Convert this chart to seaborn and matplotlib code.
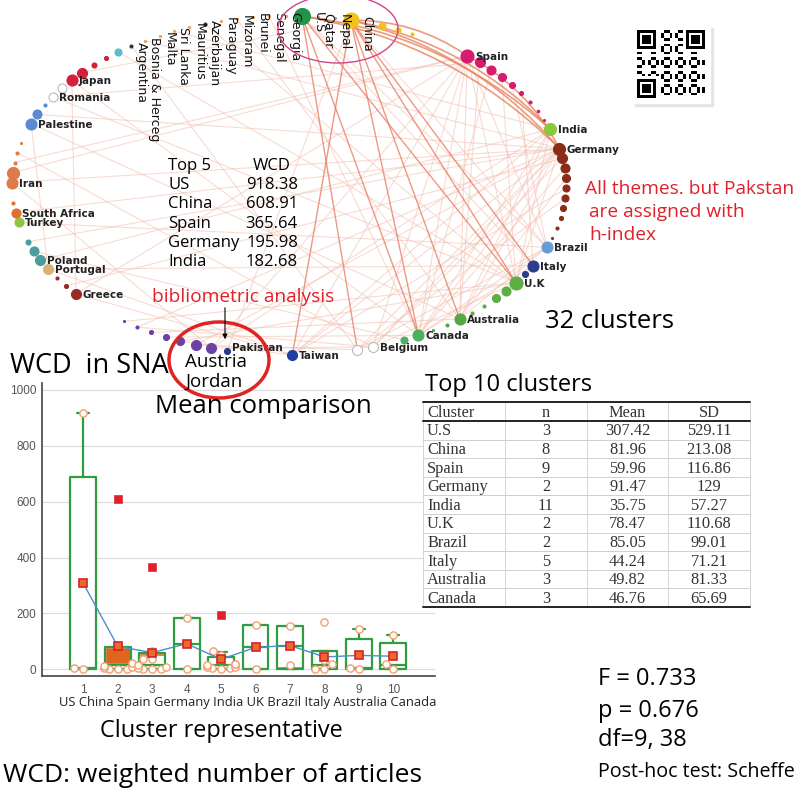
import numpy as np
import pandas as pd
import matplotlib
matplotlib.use("Agg")
from matplotlib import pyplot as plt
from matplotlib.patches import Ellipse, Rectangle, FancyArrowPatch
from matplotlib.collections import LineCollection
import seaborn as sns

sns.set_style("white")
plt.rcParams['font.family'] = ['Open Sans', 'DejaVu Sans']

# ---------------- 数据 ----------------
clusters = ["1", "2", "3", "4", "5", "6", "7", "8", "9", "10"]
cluster_names = ["US", "China", "Spain", "Germany", "India", "UK", "Brazil", "Italy", "Australia", "Canada"]
table_names = ["U.S", "China", "Spain", "Germany", "India", "U.K", "Brazil", "Italy", "Australia", "Canada"]
n_size = [3, 8, 9, 2, 11, 2, 2, 5, 3, 3]
mean_wcd = [307.42, 81.96, 59.96, 91.47, 35.75, 78.47, 85.05, 44.24, 49.82, 46.76]
sd_wcd = [529.11, 213.08, 116.86, 129, 57.27, 110.68, 99.01, 71.21, 81.33, 65.69]

# 箱线图统计量
box_q1 = [0, 0, 0, 0, 0, 0, 0, 0, 0, 0]
box_med = [3.9, 15, 15, 91.5, 15, 78.5, 85, 15, 5, 15]
box_q3 = [690, 81, 60, 183, 45, 157, 155, 65, 110, 95]
box_hi = [918, 81, 60, 183, 63, 157, 155, 65, 145, 122]
fill_lo = [0, 20, 48, 0, 0, 0, 0, 0, 0, 0]
fill_hi = [0, 81, 60, 0, 0, 0, 12, 0, 0, 0]

# 每个聚类的WCD值
cluster_points = [
    [0, 3.9, 918.4],
    [0, 0.5, 1.5, 3, 8, 12, 21.8],
    [0, 1, 2, 5, 10, 15, 36, 38, 67],
    [0, 183],
    [0, 3, 5, 8, 10, 15, 18, 20, 51, 66],
    [0, 157],
    [15, 155],
    [0, 0, 18, 33, 170],
    [0, 5, 144.5],
    [0, 18, 122],
]
out_cluster = [1, 2, 4]
out_value = [608.91, 365.64, 195.0]

top5_names = ["US", "China", "Spain", "Germany", "India"]
top5_wcd = [918.38, 608.91, 365.64, 195.98, 182.68]

stats_lines = ["F = 0.733", "p = 0.676", "df=9, 38", "Post-hoc test: Scheffe"]

# 网络节点（按圆周顺序）：标签, 颜色, 直径
ring = [
    ("U.S", "#23924a", 16), ("Qatar", "#9a9a9a", 2), ("Nepal", "#9a9a9a", 2), ("China", "#f2c21c", 15),
    ("", "", 0), ("", "#f2c21c", 7), ("", "#f2c21c", 5), ("", "#f2c21c", 3),
    ("", "", 0), ("", "", 0), ("", "", 0),
    ("Spain", "#d81b6f", 13), ("", "#d81b6f", 10), ("", "#d81b6f", 9), ("", "#d81b6f", 8),
    ("", "#d81b6f", 6), ("", "#d81b6f", 4), ("", "#d81b6f", 3), ("", "#d81b6f", 2.5), ("", "#d81b6f", 2),
    ("India", "#8cc63f", 12), ("", "", 0),
    ("Germany", "#8b2c18", 12), ("", "#8b2c18", 10), ("", "#8b2c18", 9), ("", "#8b2c18", 8),
    ("", "#8b2c18", 7), ("", "#8b2c18", 7), ("", "#8b2c18", 6), ("", "#8b2c18", 4),
    ("", "#8b2c18", 3), ("", "#8b2c18", 2),
    ("Brazil", "#6b9bd6", 11), ("", "", 0), ("Italy", "#2a3d8f", 11), ("", "#2a3d8f", 6),
    ("U.K", "#5cae45", 13), ("", "#5cae45", 9), ("", "#5cae45", 8), ("", "#5cae45", 3), ("", "#5cae45", 3),
    ("Australia", "#55a844", 11), ("", "#55a844", 3), ("", "#55a844", 2),
    ("Canada", "#4db05e", 11), ("", "#4db05e", 7), ("", "", 0),
    ("Belgium", "white", 10), ("", "white", 10), ("", "", 0), ("", "", 0), ("", "", 0),
    ("Taiwan", "#1f3e9e", 10), ("", "", 0), ("", "", 0), ("", "", 0),
    ("Pakistan", "#2b3787", 6), ("", "#6b42a3", 10), ("", "#6b42a3", 10), ("", "#6b42a3", 8),
    ("", "#6b42a3", 6), ("", "#6b42a3", 4), ("", "#6b42a3", 3), ("", "#6b42a3", 2),
    ("", "", 0), ("", "", 0), ("", "", 0),
    ("Greece", "#9c2a22", 10), ("", "#9c2a22", 4), ("", "#9c2a22", 3),
    ("Portugal", "#d9b277", 10), ("Poland", "#4b9c9c", 10), ("", "#4b9c9c", 9), ("", "#4b9c9c", 5),
    ("", "", 0), ("Turkey", "#8cc63f", 9), ("South Africa", "#e07032", 9), ("", "#e07032", 3), ("", "", 0),
    ("Iran", "#e07a48", 11), ("", "#e07a48", 12), ("", "#e07a48", 3), ("", "#e07a48", 3), ("", "#e07a48", 2),
    ("", "", 0), ("Palestine", "#5a8bd2", 11), ("", "#5a8bd2", 9), ("", "#5a8bd2", 3),
    ("Romania", "white", 9), ("", "white", 9),
    ("Japan", "#d42039", 11), ("", "#d42039", 10), ("", "#d42039", 5), ("", "#d42039", 4),
    ("", "#5bbccb", 7), ("Argentina", "#333333", 3), ("Bosnia & Herceg", "#e8a060", 2),
    ("Malta", "#e8a060", 2), ("Sri Lanka", "#e8a060", 2), ("Mauritius", "#e8a060", 2),
    ("Azerbaijan", "#333333", 3), ("Paraguay", "#e8a060", 2), ("Mizoram", "#e8a060", 2),
    ("Brunei", "#e8a060", 2), ("Senegal", "#e8a060", 2), ("Georgia", "#e8a060", 2),
]

strong_edges = [(0, 44), (0, 48), (3, 52), (3, 41), (3, 36), (0, 36), (3, 34), (3, 44)]
arc_edges = [(3, 22), (3, 20), (0, 22), (3, 11), (11, 22), (0, 20)]
light_edges = [
    (11, 44), (11, 41), (11, 36), (11, 47), (11, 52), (11, 32), (11, 67), (11, 57), (11, 80),
    (20, 41), (20, 44), (20, 36), (20, 52), (20, 71), (20, 57),
    (22, 44), (22, 41), (22, 47), (22, 52), (22, 36), (22, 79), (22, 76), (22, 58), (22, 48), (22, 62),
    (32, 44), (32, 41), (32, 75), (32, 48), (34, 44), (34, 70), (36, 47), (36, 88), (36, 94), (36, 59),
    (12, 41), (13, 44), (14, 36), (15, 32), (16, 34), (23, 47), (24, 44), (25, 41), (26, 52), (27, 48),
    (0, 32), (3, 32), (0, 34), (67, 90), (79, 57), (70, 85), (85, 41), (90, 44), (86, 22), (91, 3),
    (56, 3), (88, 12), (72, 45), (73, 22), (96, 22), (98, 20), (100, 36), (102, 41), (104, 44),
    (95, 48), (81, 11), (82, 47), (68, 23), (60, 44), (61, 41), (63, 36), (57, 47), (58, 48),
    (59, 52), (62, 47), (67, 52), (70, 52),
]

# ---------------- 画布 ----------------
W, H = 800, 788
fig = plt.figure(figsize=(8, 7.88), dpi=100)
axb = fig.add_axes([42 / W, 1 - 676 / H, 393 / W, 293 / H])
ax0 = fig.add_axes([0, 0, 1, 1])
ax0.set_xlim(0, W)
ax0.set_ylim(H, 0)
ax0.axis('off')
ax0.set_zorder(5)

# ---------------- 箱线图 ----------------
green = "#2f9e41"
pos = np.arange(len(clusters))
axb.bar(pos, np.array(box_q3) - np.array(box_q1), bottom=box_q1, width=0.75, color="white", zorder=1.5)
axb.bar(pos, np.array(fill_hi) - np.array(fill_lo), bottom=fill_lo, width=0.75, color="#e0661e", zorder=2)
stats = [dict(med=m, q1=a, q3=b, whislo=a, whishi=h, fliers=[])
         for m, a, b, h in zip(box_med, box_q1, box_q3, box_hi)]
lp = dict(color=green, linewidth=1.6)
axb.bxp(stats, positions=pos, widths=0.75, showfliers=False, manage_ticks=False, capwidths=0.35,
        boxprops=lp, whiskerprops=lp, capprops=lp, medianprops=lp, zorder=3)

df = pd.DataFrame({
    "pos": np.repeat(pos, [len(p) for p in cluster_points]),
    "wcd": np.concatenate(cluster_points),
})
sns.swarmplot(data=df, x="pos", y="wcd", native_scale=True, orient="x", ax=axb,
              color="white", edgecolor="#f2a070", linewidth=1, size=5.2, zorder=4)
sns.lineplot(x=pos, y=mean_wcd, ax=axb, color="#4b8fd1", lw=1, zorder=5, marker="s",
             markersize=6, markerfacecolor="#ea6a2a", markeredgecolor="#d8202c", markeredgewidth=1.2)
sns.scatterplot(x=[pos[i] for i in out_cluster], y=out_value, ax=axb, marker="s", s=32,
                color="#e0202a", edgecolor="#e0202a", zorder=6)

axb.set_xlim(-1.2, 10.21)
axb.set_ylim(-24, 1025)
axb.set_xticks(pos, clusters)
axb.set_yticks(range(0, 1001, 200))
axb.set_yticks(range(100, 1000, 200), minor=True)
axb.set_xlabel("")
axb.set_ylabel("")
axb.tick_params(axis='y', which='major', direction='in', length=7, width=0.8, color='#555',
                labelcolor='#555', labelsize=8.5, pad=4)
axb.tick_params(axis='y', which='minor', direction='in', length=4, width=0.8, color='#555')
axb.tick_params(axis='x', length=0, labelsize=8.5, labelcolor='#555', pad=6)
for lab in axb.get_xticklabels() + axb.get_yticklabels():
    lab.set_fontfamily('Liberation Sans')
axb.grid(axis='y', color='#dcdcdc', lw=0.9)
axb.set_axisbelow(True)
for s in ['top', 'right']:
    axb.spines[s].set_visible(False)
for s in ['left', 'bottom']:
    axb.spines[s].set_color('#444')
    axb.spines[s].set_linewidth(1.2)

# ---------------- 网络图 ----------------
N = len(ring)
theta = np.deg2rad(2.7 + np.arange(N) * 360.0 / N)
nx = 289 + 277 * np.sin(theta)
ny = 185.5 - 169.5 * np.cos(theta)

segs = [[(nx[a], ny[a]), (nx[b], ny[b])] for a, b in light_edges]
ax0.add_collection(LineCollection(segs, colors="#f2bfae", linewidths=0.8, alpha=0.55, zorder=1))
segs = [[(nx[a], ny[a]), (nx[b], ny[b])] for a, b in strong_edges]
ax0.add_collection(LineCollection(segs, colors="#e8765a", linewidths=1.0, alpha=0.75, zorder=2))
for a, b in arc_edges:
    ax0.add_patch(FancyArrowPatch((nx[a], ny[a]), (nx[b], ny[b]), connectionstyle="arc3,rad=-0.16",
                                  arrowstyle="-", color="#e8825e", lw=1.2, alpha=0.8, zorder=2))

for k, (lab, col, d) in enumerate(ring):
    if d > 0:
        edge = "#bbbbbb" if col == "white" else col
        ax0.scatter(nx[k], ny[k], s=(d * 0.72) ** 2, color=col, edgecolors=edge, linewidths=0.8, zorder=3)
    if lab:
        r = d / 2.0
        if k >= 95 or k <= 3:
            ax0.text(nx[k] + r + 2, ny[k] - 4, lab, rotation=-90, ha='left', va='top', fontsize=9,
                     family='DejaVu Sans', color='#111', zorder=4)
        else:
            dy = -2.5 if lab == "Pakistan" else 1
            ax0.text(nx[k] + r + 1.5, ny[k] + dy, lab, ha='left', va='center', fontsize=7.5,
                     family='DejaVu Sans', fontweight='bold', color='#222', zorder=4)

ax0.add_patch(Ellipse((338, 29), 120, 68, facecolor='none', edgecolor='#d2448a', lw=1, zorder=5))
ax0.add_patch(Ellipse((219, 360), 100, 76, facecolor='none', edgecolor='#e02424', lw=2.5, zorder=5))

# 二维码（装饰）
ax0.add_patch(Rectangle((635, 28), 78, 78, color='#e4e4e4', zorder=2))
ax0.add_patch(Rectangle((632, 25), 78, 78, color='white', zorder=3))
ii, jj = np.mgrid[0:25, 0:25]
qr = ((ii * 7 + jj * 11 + ii * jj) % 5 < 2).astype(float)
finder = np.zeros((8, 8))
finder[:7, :7] = 1
finder[1:6, 1:6] = 0
finder[2:5, 2:5] = 1
qr[:8, :8] = finder
qr[:8, 17:] = finder[:, ::-1]
qr[17:, :8] = finder[::-1, :]
ax0.imshow(qr, cmap='gray_r', extent=(637, 705, 98, 30), aspect='auto', interpolation='nearest', zorder=4)
ax0.set_xlim(0, W)
ax0.set_ylim(H, 0)

# ---------------- 文本 ----------------
def txt(x, y, s, size, color='black', ha='left', family='Open Sans', **kw):
    ax0.text(x, y, s, fontsize=size, color=color, ha=ha, va='baseline', family=family, zorder=6, **kw)

txt(168, 170, "Top 5", 12)
txt(253, 170, "WCD", 12)
for k, (nm, v) in enumerate(zip(top5_names, top5_wcd)):
    txt(168, 189 + 19.3 * k, nm, 12)
    txt(298, 189 + 19.3 * k, f"{v:.2f}", 12, ha='right')

red = "#e0202a"
txt(585, 194, "All themes. but Pakstan", 13.8, color=red)
txt(589, 217, "are assigned with", 13.8, color=red)
txt(589, 240, "h-index", 13.8, color=red)
txt(152, 302, "bibliometric analysis", 13.8, color=red)
ax0.add_patch(FancyArrowPatch((225, 305), (225, 342), arrowstyle='-|>', mutation_scale=7,
                              color='black', lw=0.8, zorder=6))
txt(545, 328, "32 clusters", 18.5)
txt(10, 373, "WCD  in SNA", 19.5)
txt(185, 367, "Austria", 13.5)
txt(185, 387, "Jordan", 13.5)
txt(155, 413, "Mean comparison", 18.5)
txt(425, 391, "Top 10 clusters", 17)

# 表格
ax0.add_patch(Rectangle((423, 400), 328, 209, color='white', zorder=4))
col_x = [423, 505, 587, 668, 750]
row_y = [402, 421] + [421 + 18.6 * (k + 1) for k in range(10)]
for y in row_y[2:-1]:
    ax0.plot([423, 750], [y, y], color='#cfcfcf', lw=0.7, zorder=5)
for x in col_x:
    ax0.plot([x, x], [402, row_y[-1]], color='#d4d4d4', lw=0.7, zorder=5)
for y in [row_y[0], row_y[1], row_y[-1]]:
    ax0.plot([423, 750], [y, y], color='#222', lw=1.4, zorder=6)
header = ["Cluster", "n", "Mean", "SD"]
rows = [[nm, str(n), f"{m:g}", f"{s:g}"] for nm, n, m, s in zip(table_names, n_size, mean_wcd, sd_wcd)]
for r, cells in enumerate([header] + rows):
    yc = (row_y[r] + row_y[r + 1]) / 2 + 1
    for c, cell in enumerate(cells):
        if c == 0:
            ax0.text(427, yc, cell, ha='left', va='center', fontsize=11.8, family='Liberation Serif',
                     color='#333', zorder=6)
        else:
            ax0.text((col_x[c] + col_x[c + 1]) / 2, yc, cell, ha='center', va='center', fontsize=11.8,
                     family='Liberation Serif', color='#333', zorder=6)

txt(248, 706, " ".join(cluster_names), 9.4, ha='center', color='#222')
txt(221, 737, "Cluster representative", 16.9, ha='center')
txt(3, 782, "WCD: weighted number of articles", 19)
for k, s in enumerate(stats_lines):
    txt(598, [685, 717, 746, 777][k], s, 14.1 if k == 3 else 17)

fig.savefig("out.png", dpi=100, facecolor='white')
